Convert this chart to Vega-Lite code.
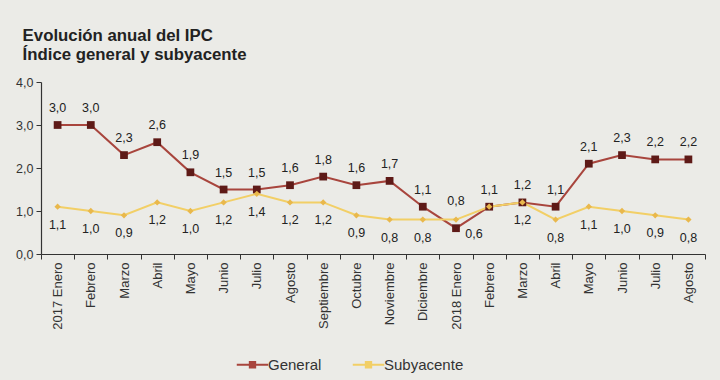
{
  "$schema": "https://vega.github.io/schema/vega-lite/v6.json",
  "width": 664,
  "height": 172,
  "autosize": {"type": "none"},
  "padding": {"left": 41, "top": 82, "right": 15, "bottom": 126},
  "background": "#ebebe7",
  "config": {"view": {"stroke": null}, "font": "Liberation Sans"},
  "title": {
    "text": ["Evolución anual del IPC", "Índice general y subyacente"],
    "anchor": "start",
    "frame": "bounds",
    "fontSize": 16.8,
    "fontWeight": "bold",
    "font": "Liberation Sans",
    "color": "#222222",
    "lineHeight": 19,
    "offset": 12,
    "dx": 7
  },
  "data": {
    "values": [
      {"periodo": "2017 Enero", "serie": "General", "valor": 3.0},
      {"periodo": "2017 Febrero", "serie": "General", "valor": 3.0},
      {"periodo": "2017 Marzo", "serie": "General", "valor": 2.3},
      {"periodo": "2017 Abril", "serie": "General", "valor": 2.6},
      {"periodo": "2017 Mayo", "serie": "General", "valor": 1.9},
      {"periodo": "2017 Junio", "serie": "General", "valor": 1.5},
      {"periodo": "2017 Julio", "serie": "General", "valor": 1.5},
      {"periodo": "2017 Agosto", "serie": "General", "valor": 1.6},
      {"periodo": "2017 Septiembre", "serie": "General", "valor": 1.8},
      {"periodo": "2017 Octubre", "serie": "General", "valor": 1.6},
      {"periodo": "2017 Noviembre", "serie": "General", "valor": 1.7},
      {"periodo": "2017 Diciembre", "serie": "General", "valor": 1.1},
      {"periodo": "2018 Enero", "serie": "General", "valor": 0.6},
      {"periodo": "2018 Febrero", "serie": "General", "valor": 1.1},
      {"periodo": "2018 Marzo", "serie": "General", "valor": 1.2},
      {"periodo": "2018 Abril", "serie": "General", "valor": 1.1},
      {"periodo": "2018 Mayo", "serie": "General", "valor": 2.1},
      {"periodo": "2018 Junio", "serie": "General", "valor": 2.3},
      {"periodo": "2018 Julio", "serie": "General", "valor": 2.2},
      {"periodo": "2018 Agosto", "serie": "General", "valor": 2.2},
      {"periodo": "2017 Enero", "serie": "Subyacente", "valor": 1.1},
      {"periodo": "2017 Febrero", "serie": "Subyacente", "valor": 1.0},
      {"periodo": "2017 Marzo", "serie": "Subyacente", "valor": 0.9},
      {"periodo": "2017 Abril", "serie": "Subyacente", "valor": 1.2},
      {"periodo": "2017 Mayo", "serie": "Subyacente", "valor": 1.0},
      {"periodo": "2017 Junio", "serie": "Subyacente", "valor": 1.2},
      {"periodo": "2017 Julio", "serie": "Subyacente", "valor": 1.4},
      {"periodo": "2017 Agosto", "serie": "Subyacente", "valor": 1.2},
      {"periodo": "2017 Septiembre", "serie": "Subyacente", "valor": 1.2},
      {"periodo": "2017 Octubre", "serie": "Subyacente", "valor": 0.9},
      {"periodo": "2017 Noviembre", "serie": "Subyacente", "valor": 0.8},
      {"periodo": "2017 Diciembre", "serie": "Subyacente", "valor": 0.8},
      {"periodo": "2018 Enero", "serie": "Subyacente", "valor": 0.8},
      {"periodo": "2018 Febrero", "serie": "Subyacente", "valor": 1.1},
      {"periodo": "2018 Marzo", "serie": "Subyacente", "valor": 1.2},
      {"periodo": "2018 Abril", "serie": "Subyacente", "valor": 0.8},
      {"periodo": "2018 Mayo", "serie": "Subyacente", "valor": 1.1},
      {"periodo": "2018 Junio", "serie": "Subyacente", "valor": 1.0},
      {"periodo": "2018 Julio", "serie": "Subyacente", "valor": 0.9},
      {"periodo": "2018 Agosto", "serie": "Subyacente", "valor": 0.8}
    ]
  },
  "transform": [
    {"calculate": "replace(format(datum.valor, '.1f'), '.', ',')", "as": "etiqueta"}
  ],
  "encoding": {
    "x": {
      "field": "periodo",
      "type": "nominal",
      "sort": ["2017 Enero", "2017 Febrero", "2017 Marzo", "2017 Abril", "2017 Mayo", "2017 Junio", "2017 Julio", "2017 Agosto", "2017 Septiembre", "2017 Octubre", "2017 Noviembre", "2017 Diciembre", "2018 Enero", "2018 Febrero", "2018 Marzo", "2018 Abril", "2018 Mayo", "2018 Junio", "2018 Julio", "2018 Agosto"],
      "scale": {"type": "band", "paddingInner": 0, "paddingOuter": 0},
      "axis": {
        "title": null,
        "labelAngle": -90,
        "tickBand": "extent",
        "labelExpr": "indexof(datum.label, 'Enero') >= 0 ? datum.label : split(datum.label, ' ')[1]",
        "domainColor": "#333333",
        "domainWidth": 1.2,
        "tickColor": "#333333",
        "tickSize": 5,
        "labelColor": "#333333",
        "labelFontSize": 13,
        "labelFont": "Liberation Sans",
        "labelPadding": 3
      }
    },
    "y": {
      "field": "valor",
      "type": "quantitative",
      "scale": {"domain": [0, 4]},
      "axis": {
        "title": null,
        "values": [0, 1, 2, 3, 4],
        "labelExpr": "replace(format(datum.value, '.1f'), '.', ',')",
        "grid": false,
        "domainColor": "#333333",
        "domainWidth": 1.2,
        "tickColor": "#333333",
        "tickSize": 5,
        "labelColor": "#333333",
        "labelFontSize": 12.5,
        "labelFont": "Liberation Sans",
        "labelPadding": 3
      }
    }
  },
  "layer": [
    {
      "mark": {"type": "line", "strokeWidth": 2},
      "encoding": {
        "color": {
          "field": "serie",
          "type": "nominal",
          "scale": {"domain": ["General", "Subyacente"], "range": ["#a8453d", "#f2cf66"]},
          "legend": {
            "title": null,
            "orient": "none",
            "legendX": 201,
            "legendY": 272,
            "direction": "horizontal",
            "symbolType": "M-1.5,-0.1L1.5,-0.1L1.5,0.1L-1.5,0.1ZM-0.35,-0.35L0.35,-0.35L0.35,0.35L-0.35,0.35Z",
            "symbolSize": 440,
            "symbolStrokeWidth": 0,
            "labelFontSize": 15,
            "labelFont": "Liberation Sans",
            "labelColor": "#333333",
            "columnPadding": 30,
            "labelOffset": 5,
            "encode": {
              "symbols": {
                "update": {
                  "fill": {"scale": "color", "field": "value"},
                  "fillOpacity": {"value": 1},
                  "strokeWidth": {"value": 0}
                }
              }
            }
          }
        }
      }
    },
    {
      "transform": [{"filter": "datum.serie == 'General'"}],
      "mark": {"type": "point", "filled": true, "opacity": 1, "shape": "square", "size": 60, "color": "#5e1a17"}
    },
    {
      "transform": [{"filter": "datum.serie == 'Subyacente'"}],
      "mark": {"type": "point", "filled": true, "opacity": 1, "shape": "diamond", "size": 40, "color": "#e9b84c"}
    },
    {
      "transform": [{"filter": "datum.serie == 'General' && datum.periodo != '2018 Enero'"}],
      "mark": {"type": "text", "dy": -17, "fontSize": 12.5, "font": "Liberation Sans", "color": "#222222"},
      "encoding": {"text": {"field": "etiqueta"}}
    },
    {
      "transform": [{"filter": "datum.serie == 'Subyacente' && datum.periodo != '2018 Enero' && datum.periodo != '2018 Febrero'"}],
      "mark": {"type": "text", "dy": 18, "fontSize": 12.5, "font": "Liberation Sans", "color": "#222222"},
      "encoding": {"text": {"field": "etiqueta"}}
    },
    {
      "transform": [{"filter": "datum.serie == 'General' && datum.periodo == '2018 Enero'"}],
      "mark": {"type": "text", "dx": 18, "dy": 6, "fontSize": 12.5, "font": "Liberation Sans", "color": "#222222"},
      "encoding": {"text": {"field": "etiqueta"}}
    },
    {
      "transform": [{"filter": "datum.serie == 'Subyacente' && datum.periodo == '2018 Enero'"}],
      "mark": {"type": "text", "dy": -19, "fontSize": 12.5, "font": "Liberation Sans", "color": "#222222"},
      "encoding": {"text": {"field": "etiqueta"}}
    }
  ]
}
